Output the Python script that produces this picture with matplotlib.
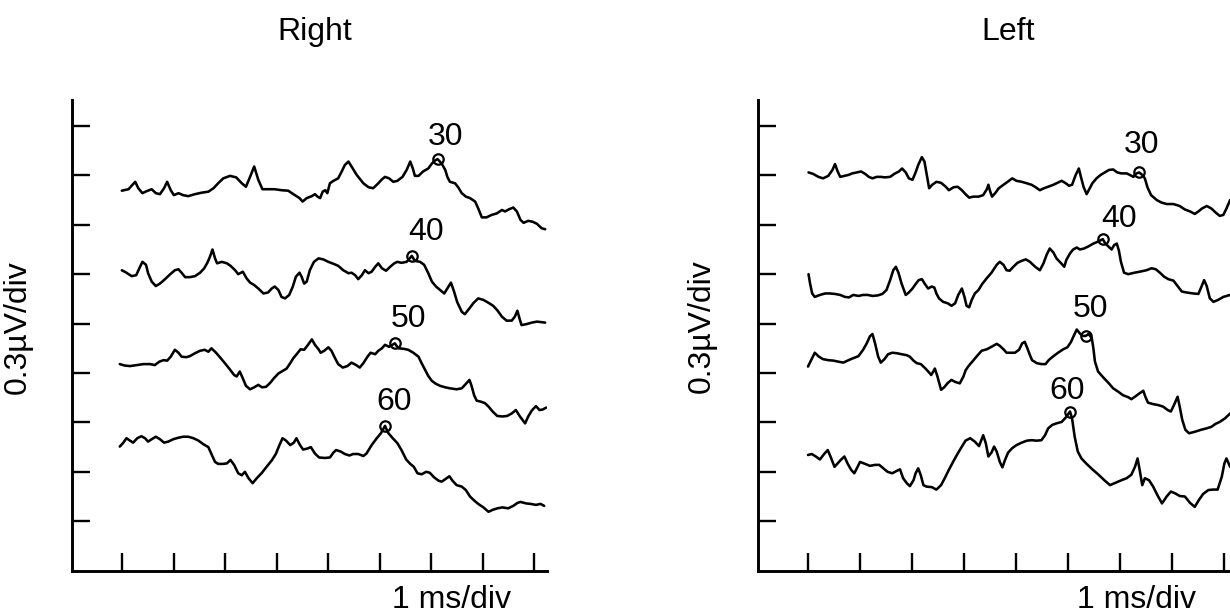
import numpy as np
import matplotlib
matplotlib.use("Agg")
import matplotlib.pyplot as plt

plt.rcParams['font.family'] = ['Liberation Sans', 'DejaVu Sans']

# ---------------- data ----------------
# Each trace: (latency in ms from the first x tick, amplitude in 0.3 µV divisions)
INTENSITIES = [30, 40, 50, 60]

RIGHT_30 = [(-0.01,7.69),(0.12,7.72),(0.18,7.79),(0.25,7.87),(0.31,7.74),(0.39,7.64),(0.47,7.68),(0.57,7.72),(0.65,7.64),(0.73,7.62),(0.81,7.74),(0.87,7.87),(0.94,7.70),(1.00,7.60),(1.09,7.64),(1.18,7.60),(1.28,7.58),(1.41,7.62),(1.54,7.65),(1.67,7.67),(1.77,7.74),(1.86,7.84),(1.96,7.94),(2.09,7.99),(2.21,7.96),(2.32,7.84),(2.40,7.77),(2.48,7.97),(2.56,8.18),(2.64,7.91),(2.72,7.72),(2.83,7.72),(2.96,7.72),(3.09,7.70),(3.22,7.69),(3.35,7.60),(3.44,7.54),(3.50,7.47),(3.58,7.54),(3.68,7.58),(3.74,7.62),(3.79,7.57),(3.84,7.54),(3.89,7.67),(3.94,7.70),(3.98,7.64),(4.03,7.84),(4.10,7.89),(4.19,7.94),(4.26,8.08),(4.32,8.21),(4.39,8.28),(4.45,8.18),(4.55,8.01),(4.68,7.84),(4.78,7.76),(4.87,7.74),(4.97,7.84),(5.04,7.92),(5.10,7.97),(5.18,7.94),(5.26,7.87),(5.34,7.89),(5.44,7.97),(5.52,8.11),(5.59,8.28),(5.64,8.14),(5.68,7.99),(5.75,7.99),(5.84,8.08),(5.94,8.14),(6.01,8.24),(6.07,8.30),(6.12,8.33),(6.20,8.24),(6.27,8.11),(6.31,7.97),(6.36,7.87),(6.46,7.84),(6.52,7.76),(6.59,7.64),(6.67,7.57),(6.75,7.54),(6.85,7.47),(6.91,7.33),(6.98,7.15),(7.07,7.15),(7.17,7.20),(7.27,7.23),(7.37,7.30),(7.43,7.27),(7.50,7.31),(7.59,7.35),(7.66,7.27),(7.73,7.10),(7.79,7.04),(7.88,7.08),(7.97,7.06),(8.05,7.02),(8.14,6.93),(8.21,6.91)]

RIGHT_40 = [(-0.01,6.08),(0.08,6.03),(0.18,5.96),(0.27,5.98),(0.33,6.12),(0.39,6.25),(0.46,6.19),(0.50,6.02),(0.57,5.85),(0.65,5.76),(0.73,5.81),(0.83,5.90),(0.93,6.00),(1.02,6.08),(1.09,6.10),(1.15,6.03),(1.22,5.94),(1.31,5.94),(1.41,5.96),(1.51,6.03),(1.59,6.12),(1.65,6.23),(1.70,6.35),(1.75,6.50),(1.80,6.32),(1.84,6.22),(1.93,6.25),(2.03,6.22),(2.10,6.17),(2.19,6.08),(2.25,6.00),(2.34,6.05),(2.41,5.92),(2.48,5.83),(2.56,5.78),(2.64,5.71),(2.74,5.61),(2.83,5.63),(2.90,5.71),(2.96,5.75),(3.03,5.68),(3.09,5.54),(3.16,5.51),(3.24,5.58),(3.31,5.75),(3.37,5.95),(3.44,6.03),(3.48,5.95),(3.53,5.81),(3.58,5.85),(3.64,6.08),(3.72,6.25),(3.81,6.32),(3.90,6.30),(4.00,6.25),(4.10,6.21),(4.19,6.17),(4.29,6.08),(4.39,6.02),(4.45,6.03),(4.52,5.98),(4.58,5.90),(4.65,5.98),(4.71,6.08),(4.78,6.02),(4.84,6.05),(4.91,6.15),(4.97,6.22),(5.04,6.12),(5.12,6.07),(5.20,6.15),(5.28,6.22),(5.34,6.25),(5.42,6.23),(5.52,6.25),(5.62,6.37),(5.68,6.27),(5.78,6.25),(5.86,6.19),(5.94,6.02),(6.01,5.85),(6.09,5.75),(6.17,5.68),(6.25,5.61),(6.31,5.71),(6.38,5.83),(6.44,5.65),(6.50,5.44),(6.59,5.24),(6.65,5.19),(6.74,5.31),(6.82,5.42),(6.91,5.51),(7.01,5.48),(7.11,5.42),(7.20,5.36),(7.28,5.27),(7.37,5.14),(7.46,5.06),(7.56,5.06),(7.62,5.14),(7.67,5.26),(7.71,5.11),(7.75,4.97),(7.85,4.99),(7.95,5.02),(8.05,5.04),(8.21,5.02)]

RIGHT_50 = [(-0.05,4.18),(0.05,4.15),(0.15,4.14),(0.28,4.16),(0.41,4.18),(0.54,4.18),(0.63,4.16),(0.72,4.23),(0.80,4.26),(0.87,4.25),(0.94,4.33),(1.02,4.47),(1.09,4.41),(1.15,4.33),(1.24,4.32),(1.31,4.34),(1.41,4.40),(1.51,4.45),(1.60,4.47),(1.67,4.43),(1.73,4.50),(1.82,4.41),(1.91,4.30),(1.99,4.20),(2.09,4.07),(2.17,3.96),(2.22,3.93),(2.28,4.03),(2.34,3.89),(2.40,3.74),(2.48,3.67),(2.56,3.71),(2.64,3.76),(2.71,3.71),(2.79,3.72),(2.87,3.80),(2.94,3.89),(3.03,3.99),(3.11,4.04),(3.19,4.09),(3.26,4.20),(3.32,4.30),(3.40,4.40),(3.46,4.48),(3.53,4.47),(3.59,4.55),(3.68,4.68),(3.74,4.57),(3.81,4.48),(3.85,4.41),(3.92,4.45),(4.00,4.52),(4.06,4.45),(4.13,4.30),(4.19,4.18),(4.28,4.11),(4.37,4.14),(4.45,4.21),(4.54,4.16),(4.61,4.11),(4.68,4.20),(4.76,4.33),(4.82,4.41),(4.91,4.38),(4.97,4.45),(5.04,4.50),(5.10,4.57),(5.18,4.53),(5.29,4.60),(5.36,4.50),(5.46,4.49),(5.55,4.47),(5.65,4.41),(5.75,4.33),(5.81,4.20),(5.88,4.06),(5.94,3.94),(6.01,3.84),(6.09,3.78),(6.17,3.74),(6.27,3.71),(6.36,3.69),(6.49,3.67),(6.59,3.69),(6.67,3.78),(6.74,3.86),(6.78,3.74),(6.83,3.55),(6.88,3.44),(6.96,3.42),(7.04,3.39),(7.11,3.32),(7.19,3.22),(7.28,3.13),(7.38,3.12),(7.47,3.13),(7.56,3.18),(7.64,3.25),(7.72,3.12),(7.82,2.98),(7.88,3.12),(7.95,3.24),(8.03,3.33),(8.10,3.25),(8.16,3.26),(8.23,3.30)]

RIGHT_60 = [(-0.05,2.51),(0.02,2.59),(0.08,2.68),(0.15,2.63),(0.21,2.59),(0.29,2.68),(0.37,2.72),(0.44,2.68),(0.50,2.61),(0.57,2.66),(0.65,2.71),(0.73,2.66),(0.81,2.59),(0.89,2.61),(0.99,2.66),(1.09,2.69),(1.18,2.71),(1.28,2.71),(1.38,2.68),(1.48,2.63),(1.57,2.56),(1.67,2.50),(1.73,2.36),(1.80,2.20),(1.86,2.16),(1.96,2.16),(2.03,2.17),(2.10,2.24),(2.17,2.14),(2.25,1.97),(2.32,1.93),(2.38,2.00),(2.45,1.87),(2.53,1.77),(2.61,1.87),(2.71,1.98),(2.80,2.10),(2.90,2.23),(2.98,2.36),(3.05,2.54),(3.11,2.68),(3.18,2.63),(3.26,2.54),(3.33,2.59),(3.38,2.68),(3.45,2.54),(3.51,2.45),(3.59,2.47),(3.66,2.50),(3.74,2.37),(3.82,2.29),(3.93,2.28),(4.03,2.29),(4.10,2.39),(4.15,2.44),(4.24,2.41),(4.32,2.36),(4.41,2.33),(4.48,2.36),(4.58,2.36),(4.68,2.32),(4.74,2.37),(4.84,2.54),(4.94,2.68),(5.02,2.78),(5.10,2.93),(5.16,2.79),(5.25,2.68),(5.34,2.58),(5.42,2.44),(5.51,2.25),(5.59,2.16),(5.66,2.10),(5.73,1.97),(5.81,1.95),(5.90,2.00),(5.97,1.98),(6.05,1.89),(6.14,1.82),(6.20,1.80),(6.27,1.85),(6.35,1.91),(6.41,1.82),(6.49,1.73),(6.59,1.70),(6.67,1.63),(6.75,1.50),(6.83,1.42),(6.91,1.35),(7.01,1.28),(7.11,1.19),(7.19,1.23),(7.28,1.26),(7.38,1.28),(7.49,1.26),(7.59,1.31),(7.67,1.37),(7.73,1.39),(7.84,1.36),(7.93,1.35),(8.03,1.33),(8.12,1.35),(8.19,1.31)]

LEFT_30 = [(0.01,8.06),(0.10,8.03),(0.20,7.97),(0.29,7.94),(0.39,7.99),(0.47,8.11),(0.52,8.23),(0.57,8.08),(0.62,7.97),(0.70,7.99),(0.78,8.01),(0.85,8.04),(0.94,8.06),(1.02,8.08),(1.10,8.03),(1.17,7.97),(1.24,7.94),(1.32,7.97),(1.40,7.97),(1.48,7.96),(1.58,7.97),(1.66,8.03),(1.75,8.08),(1.81,8.14),(1.88,8.06),(1.94,7.94),(2.01,7.91),(2.07,8.06),(2.12,8.21),(2.19,8.37),(2.24,8.28),(2.28,8.04),(2.33,7.74),(2.39,7.81),(2.47,7.87),(2.56,7.85),(2.65,7.77),(2.71,7.70),(2.80,7.76),(2.88,7.77),(2.96,7.70),(3.03,7.62),(3.10,7.55),(3.18,7.57),(3.28,7.57),(3.37,7.60),(3.44,7.72),(3.47,7.81),(3.50,7.69),(3.54,7.57),(3.60,7.64),(3.67,7.74),(3.76,7.81),(3.84,7.87),(3.93,7.94),(4.01,7.89),(4.11,7.87),(4.21,7.84),(4.30,7.81),(4.38,7.76),(4.46,7.70),(4.54,7.74),(4.62,7.77),(4.72,7.81),(4.80,7.85),(4.88,7.89),(4.96,7.84),(5.02,7.79),(5.08,7.81),(5.15,8.01),(5.21,8.14),(5.25,7.97),(5.30,7.77),(5.36,7.62),(5.40,7.70),(5.47,7.84),(5.55,7.94),(5.63,8.01),(5.71,8.06),(5.79,8.11),(5.87,8.12),(5.95,8.06),(6.03,8.04),(6.13,8.04),(6.19,8.01),(6.26,7.97),(6.30,8.03),(6.37,8.06),(6.43,8.01),(6.48,7.94),(6.53,7.76),(6.60,7.60),(6.71,7.50),(6.80,7.45),(6.90,7.42),(7.03,7.42),(7.15,7.38),(7.25,7.31),(7.35,7.27),(7.44,7.22),(7.51,7.27),(7.58,7.33),(7.67,7.38),(7.76,7.33),(7.84,7.25),(7.92,7.18),(7.99,7.20),(8.05,7.33),(8.12,7.50)]

LEFT_40 = [(0.01,6.00),(0.04,5.81),(0.08,5.61),(0.13,5.54),(0.23,5.58),(0.33,5.61),(0.42,5.61),(0.52,5.60),(0.62,5.58),(0.71,5.54),(0.79,5.53),(0.87,5.58),(0.97,5.56),(1.06,5.58),(1.15,5.58),(1.24,5.56),(1.34,5.57),(1.43,5.60),(1.51,5.68),(1.58,5.88),(1.64,6.08),(1.69,6.15),(1.74,6.03),(1.80,5.81),(1.88,5.58),(1.94,5.63),(2.01,5.71),(2.07,5.80),(2.13,5.88),(2.19,5.90),(2.25,5.80),(2.31,5.71),(2.38,5.75),(2.43,5.73),(2.47,5.61),(2.52,5.51),(2.60,5.44),(2.69,5.41),(2.76,5.36),(2.83,5.41),(2.89,5.58),(2.96,5.71),(3.01,5.54),(3.05,5.36),(3.10,5.33),(3.15,5.48),(3.21,5.61),(3.28,5.68),(3.35,5.80),(3.44,5.92),(3.53,6.03),(3.63,6.19),(3.69,6.25),(3.76,6.19),(3.82,6.08),(3.88,6.07),(3.95,6.15),(4.03,6.23),(4.11,6.27),(4.19,6.30),(4.27,6.25),(4.37,6.15),(4.46,6.08),(4.53,6.22),(4.59,6.39),(4.65,6.52),(4.72,6.44),(4.78,6.32),(4.87,6.22),(4.93,6.15),(4.97,6.29),(5.04,6.42),(5.10,6.50),(5.17,6.54),(5.23,6.50),(5.31,6.52),(5.39,6.56),(5.49,6.62),(5.58,6.66),(5.67,6.71),(5.72,6.62),(5.78,6.56),(5.84,6.50),(5.89,6.59),(5.94,6.62),(5.98,6.48),(6.02,6.25),(6.08,6.03),(6.16,6.00),(6.28,6.03),(6.38,6.05),(6.51,6.08),(6.61,6.12),(6.69,6.10),(6.77,6.03),(6.85,5.95),(6.93,5.90),(7.03,5.87),(7.11,5.76),(7.19,5.65),(7.28,5.63),(7.41,5.61),(7.51,5.60),(7.57,5.75),(7.62,5.88),(7.67,5.76),(7.73,5.51),(7.80,5.44),(7.89,5.48),(7.99,5.54),(8.12,5.58)]

LEFT_50 = [(0.00,4.13),(0.06,4.26),(0.13,4.41),(0.21,4.33),(0.29,4.28),(0.39,4.26),(0.49,4.25),(0.58,4.23),(0.68,4.21),(0.78,4.26),(0.87,4.30),(0.97,4.34),(1.06,4.47),(1.13,4.60),(1.19,4.74),(1.24,4.79),(1.29,4.60),(1.35,4.33),(1.40,4.21),(1.47,4.28),(1.54,4.38),(1.62,4.41),(1.71,4.40),(1.80,4.38),(1.90,4.36),(1.96,4.33),(2.03,4.25),(2.09,4.20),(2.17,4.18),(2.26,4.09),(2.33,4.01),(2.37,3.96),(2.41,4.03),(2.44,4.09),(2.49,3.93),(2.56,3.66),(2.62,3.71),(2.69,3.80),(2.76,3.86),(2.83,3.82),(2.92,3.79),(2.99,3.93),(3.03,4.05),(3.08,4.13),(3.16,4.23),(3.24,4.33),(3.34,4.45),(3.44,4.48),(3.53,4.53),(3.63,4.59),(3.69,4.55),(3.76,4.48),(3.82,4.41),(3.90,4.41),(3.98,4.41),(4.06,4.47),(4.12,4.60),(4.17,4.63),(4.22,4.50),(4.27,4.36),(4.31,4.26),(4.40,4.20),(4.49,4.18),(4.57,4.18),(4.63,4.26),(4.72,4.34),(4.81,4.41),(4.91,4.48),(4.99,4.52),(5.06,4.63),(5.12,4.77),(5.17,4.88),(5.23,4.80),(5.28,4.75),(5.34,4.75),(5.40,4.79),(5.46,4.70),(5.49,4.50),(5.52,4.23),(5.58,4.03),(5.68,3.91),(5.78,3.80),(5.87,3.69),(5.97,3.62),(6.06,3.55),(6.16,3.51),(6.22,3.47),(6.29,3.52),(6.38,3.59),(6.45,3.64),(6.49,3.52),(6.54,3.40),(6.64,3.37),(6.74,3.35),(6.83,3.32),(6.92,3.25),(6.98,3.22),(7.04,3.35),(7.11,3.52),(7.15,3.32),(7.20,3.05),(7.26,2.85),(7.33,2.78),(7.44,2.81),(7.56,2.85),(7.67,2.88),(7.76,2.91),(7.84,2.97),(7.92,3.01),(8.02,3.08),(8.12,3.18)]

LEFT_60 = [(0.00,2.34),(0.07,2.36),(0.15,2.31),(0.23,2.25),(0.31,2.36),(0.38,2.44),(0.44,2.29),(0.51,2.10),(0.57,2.17),(0.63,2.24),(0.70,2.31),(0.76,2.17),(0.83,2.04),(0.89,1.97),(0.94,2.07),(1.00,2.20),(1.10,2.16),(1.19,2.12),(1.29,2.14),(1.37,2.14),(1.45,2.07),(1.53,2.00),(1.62,1.97),(1.71,2.02),(1.77,2.05),(1.83,1.87),(1.90,1.77),(1.96,1.71),(2.03,1.83),(2.07,1.97),(2.12,2.07),(2.17,1.93),(2.22,1.73),(2.28,1.70),(2.38,1.69),(2.47,1.64),(2.56,1.73),(2.63,1.87),(2.71,2.04),(2.79,2.20),(2.88,2.37),(2.96,2.51),(3.03,2.63),(3.12,2.68),(3.21,2.61),(3.29,2.52),(3.37,2.74),(3.42,2.58),(3.47,2.31),(3.53,2.39),(3.58,2.51),(3.63,2.41),(3.69,2.20),(3.74,2.09),(3.79,2.24),(3.85,2.39),(3.93,2.48),(4.01,2.54),(4.11,2.59),(4.21,2.63),(4.30,2.64),(4.40,2.63),(4.49,2.64),(4.56,2.74),(4.62,2.88),(4.70,2.95),(4.78,2.98),(4.88,3.01),(4.96,3.10),(5.04,3.22),(5.08,3.08),(5.13,2.71),(5.19,2.41),(5.26,2.27),(5.36,2.16),(5.47,2.05),(5.58,1.95),(5.70,1.83),(5.81,1.73),(5.92,1.78),(6.03,1.83),(6.13,1.87),(6.22,1.94),(6.29,2.10),(6.34,2.27),(6.38,2.04),(6.43,1.73),(6.48,1.87),(6.56,1.83),(6.64,1.70),(6.72,1.53),(6.81,1.36),(6.90,1.50),(6.98,1.60),(7.07,1.56),(7.15,1.51),(7.25,1.50),(7.35,1.37),(7.44,1.29),(7.52,1.43),(7.60,1.55),(7.70,1.63),(7.79,1.64),(7.88,1.64),(7.96,1.90),(8.01,2.17),(8.05,2.27),(8.12,2.10)]

# Marked peaks (latency ms, amplitude div) for 30/40/50/60
RIGHT_PEAK_T = [6.12, 5.62, 5.29, 5.10]
RIGHT_PEAK_V = [8.33, 6.37, 4.60, 2.93]
LEFT_PEAK_T = [6.37, 5.67, 5.34, 5.04]
LEFT_PEAK_V = [8.06, 6.71, 4.75, 3.22]

# Label anchor positions (data coords, baseline-centred)
RIGHT_LABEL_POS = [(6.28, 8.61), (5.89, 6.69), (5.55, 4.94), (5.28, 3.25)]
LEFT_LABEL_POS = [(6.42, 8.45), (5.98, 6.96), (5.43, 5.14), (4.99, 3.47)]

X_TICKS = list(range(0, 9))
Y_TICKS = list(range(1, 10))

# ---------------- figure ----------------
W, H = 1230, 614
fig = plt.figure(figsize=(W / 100, H / 100), dpi=100)
fig.patch.set_facecolor('white')

FS = 23


def make_axes(left_px, width_px, xlim):
    bottom_px, top_px = 570.6, 100.0
    ax = fig.add_axes([left_px / W, (H - bottom_px) / H,
                       width_px / W, (bottom_px - top_px) / H])
    ax.set_xlim(*xlim)
    ax.set_ylim(0, 9.526)
    ax.set_xticks(X_TICKS)
    ax.set_yticks(Y_TICKS)
    ax.tick_params(direction='in', length=13, width=1.7,
                   labelbottom=False, labelleft=False, color='black')
    for s in ['top', 'right']:
        ax.spines[s].set_visible(False)
    for s in ['left', 'bottom']:
        ax.spines[s].set_linewidth(2.1)
        ax.spines[s].set_color('black')
        ax.spines[s].set_capstyle('projecting')
    ax.patch.set_alpha(0)
    return ax


def draw_panel(ax, traces, peak_t, peak_v, label_pos):
    for tr in traces:
        a = np.asarray(tr)
        ax.plot(a[:, 0], a[:, 1], color='black', lw=1.85,
                solid_joinstyle='round', solid_capstyle='round')
    ax.plot(peak_t, peak_v, 'o', ms=7.5, mfc='none', mec='black', mew=1.6)
    for lvl, (lx, ly) in zip(INTENSITIES, label_pos):
        ax.text(lx, ly, str(lvl), ha='center', va='baseline', fontsize=FS)


ax1 = make_axes(71.7, 475.3, (-0.983, 8.245))
draw_panel(ax1, [RIGHT_30, RIGHT_40, RIGHT_50, RIGHT_60],
           RIGHT_PEAK_T, RIGHT_PEAK_V, RIGHT_LABEL_POS)

ax2 = make_axes(758.1, 479.8, (-0.96, 8.27))
draw_panel(ax2, [LEFT_30, LEFT_40, LEFT_50, LEFT_60],
           LEFT_PEAK_T, LEFT_PEAK_V, LEFT_LABEL_POS)

# titles
fig.text(314.7 / W, (H - 40.4) / H, 'Right', ha='center', va='baseline', fontsize=FS)
fig.text(1008 / W, (H - 40.4) / H, 'Left', ha='center', va='baseline', fontsize=FS)

# x labels
fig.text(451.2 / W, (H - 608.3) / H, '1 ms/div', ha='center', va='baseline', fontsize=FS)
fig.text(1136.6 / W, (H - 608.3) / H, '1 ms/div', ha='center', va='baseline', fontsize=FS)

# y labels
fig.text(32.7 / W, (H - 327.5) / H, '0.3µV/div', rotation=90, ha='right', va='center', fontsize=FS)
fig.text(717 / W, (H - 326.5) / H, '0.3µV/div', rotation=90, ha='right', va='center', fontsize=FS)

fig.savefig('out.png', dpi=100, facecolor='white')
